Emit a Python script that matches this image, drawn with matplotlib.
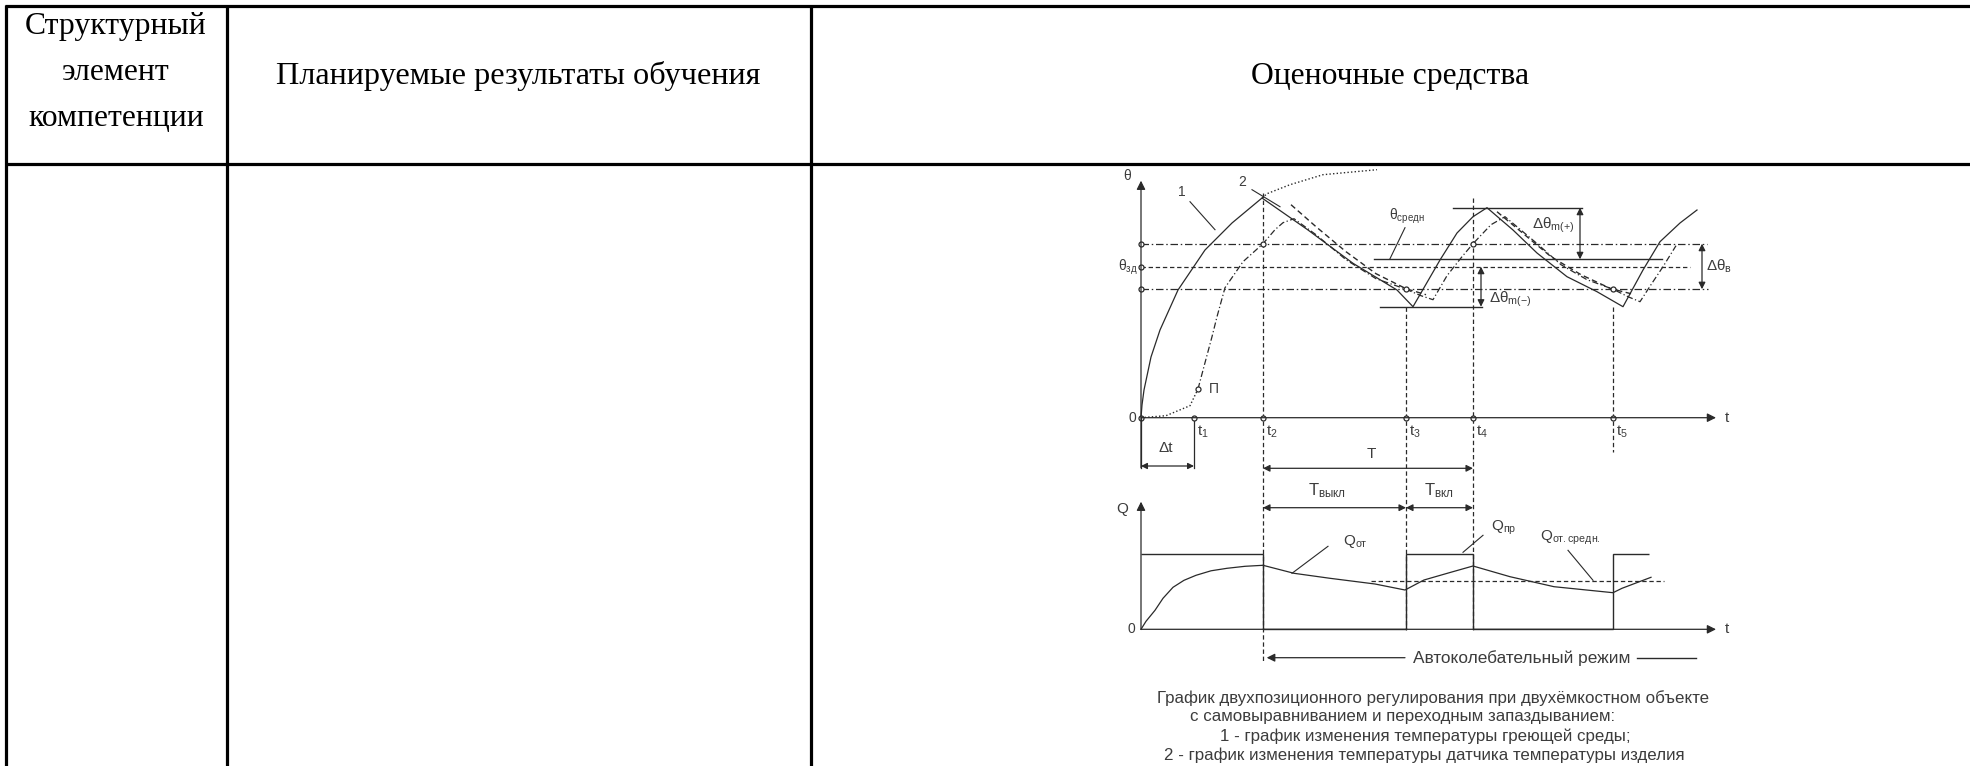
import matplotlib.pyplot as plt

plt.rcParams['font.family'] = ['Liberation Sans', 'DejaVu Sans']
plt.rcParams['mathtext.fontset'] = 'custom'
plt.rcParams['mathtext.rm'] = 'Liberation Sans'
plt.rcParams['mathtext.it'] = 'Liberation Sans:italic'
plt.rcParams['mathtext.bf'] = 'Liberation Sans:bold'

# ---- table header text ----
header_col1 = ['Структурный', 'элемент', 'компетенции']
header_col2 = 'Планируемые результаты обучения'
header_col3 = 'Оценочные средства'

caption = [
    'График двухпозиционного регулирования при двухёмкостном объекте',
    'с самовыравниванием и переходным запаздыванием:',
    '1 - график изменения температуры греющей среды;',
    '2 - график изменения температуры датчика температуры изделия',
]

# ---- diagram data (time units, temperature units, heat flow units) ----
t_marks = [5.3, 12.2, 26.5, 33.2, 47.2]
t_names = ['1', '2', '3', '4', '5']

theta_upper = 17.4
theta_set = 15.1
theta_lower = 12.85
theta_mean = 15.84
theta_max = 21.0
theta_min = 11.1

# curve 1: heating medium temperature
curve1_t = [0, 0.1, 0.3, 1.0, 1.9, 3.7, 6.4, 9.1, 12.1,
            16.7, 21.2, 25.6, 27.2,
            29.9, 31.6, 33.2, 34.6,
            37.2, 39.6, 42.6, 45.6, 48.2,
            50.2, 51.9, 53.9, 55.6]
curve1_theta = [0, 1.27, 2.77, 6.07, 8.77, 12.77, 16.77, 19.47, 21.97,
                18.77, 15.44, 12.77, 11.1,
                15.77, 18.47, 20.1, 21.0,
                18.77, 16.47, 14.1, 12.6, 11.1,
                14.77, 17.6, 19.47, 20.77]

# curve 1 continued if heater stayed on
free_t = [12.1, 12.6, 14.9, 18.2, 23.6]
free_theta = [21.97, 22.4, 23.3, 24.3, 24.8]

# curve 2: sensor temperature
lag_t = [0, 2.5, 4.9, 5.7]
lag_theta = [0, 0.2, 1.2, 2.87]
curve2_t = [5.7, 6.4, 7.1, 7.6, 8.4, 10.2, 12.2, 13.4, 14.2, 15.3,
            17.5, 20.5, 23.5, 26.5, 28.0, 29.2,
            30.6, 32.1, 33.2, 35.0, 36.4,
            39.5, 42.0, 44.6, 47.2, 48.7, 49.9,
            51.0, 52.2, 53.5]
curve2_theta = [2.87, 5.5, 8.1, 10.1, 13.0, 15.6, 17.4, 18.8, 19.5, 19.9,
                18.3, 15.8, 13.9, 12.85, 12.2, 11.8,
                14.2, 16.1, 17.4, 19.3, 20.1,
                17.5, 15.3, 13.8, 12.85, 12.1, 11.6,
                13.3, 15.1, 17.2]

# curve 3: product temperature (descending parts)
curve3a_t = [15.0, 17.5, 20.5, 23.5, 26.5, 28.5]
curve3a_theta = [21.3, 19.1, 16.6, 14.4, 12.9, 12.3]
curve3b_t = [35.6, 38.0, 41.0, 44.0, 47.0, 49.0]
curve3b_theta = [20.6, 18.6, 16.1, 14.3, 12.9, 12.4]

# heat flow from heater (on/off) and heat taken by object
q_edges = [0, 12.2, 26.5, 33.2, 47.2, 50.8]
q_levels = [7.53, 0, 7.53, 0, 7.53]
q_ot_t = [0, 0.5, 1.4, 2.2, 3.2, 4.3, 5.5, 7.0, 8.6, 10.4, 12.2,
          15.3, 18.9, 23.4, 26.4,
          28.3, 30.8, 33.2, 36.9, 41.3, 47.2, 48.1, 51.0]
q_ot = [0, 0.8, 1.9, 3.1, 4.2, 4.9, 5.4, 5.85, 6.1, 6.3, 6.4,
        5.6, 5.1, 4.53, 3.93,
        4.93, 5.65, 6.33, 5.26, 4.26, 3.66, 4.1, 5.2]
q_mean = 4.86

# ---- layout (pixels) ----
W, H = 1970, 766
INK = '#2a2a2a'
TXT = '#3c3c3c'

fig = plt.figure(figsize=(W / 100, H / 100), dpi=100)
bg = fig.add_axes([0, 0, 1, 1])
bg.set_xlim(0, W)
bg.set_ylim(H, 0)
bg.axis('off')

# table grid
for y in (5.5, 163.5):
    bg.plot([4.5, W], [y, y], color='black', lw=2.3, solid_capstyle='butt')
for x in (6, 226.5, 810.5):
    bg.plot([x, x], [4.5, H], color='black', lw=2.3, solid_capstyle='butt')

serif = ['Liberation Serif', 'DejaVu Serif']
for line, y in zip(header_col1, (34, 80, 126)):
    bg.text(116, y, line, ha='center', va='baseline', fontsize=22.8, family=serif)
bg.text(518, 84, header_col2, ha='center', va='baseline', fontsize=23.2, family=serif)
bg.text(1390, 84, header_col3, ha='center', va='baseline', fontsize=22.8, family=serif)

for line, x, y in zip(caption, (1433, 1403, 1425, 1424), (698, 717, 736, 755)):
    bg.text(x, y, line, ha='center', va='center', fontsize=12.2, color=TXT)


def diagram_axes(left, right, top, bottom, x0, y0, scale=10.0):
    ax = fig.add_axes([left / W, 1 - bottom / H, (right - left) / W, (bottom - top) / H])
    ax.set_xlim((left - x0) / scale, (right - x0) / scale)
    ax.set_ylim((y0 - bottom) / scale, (y0 - top) / scale)
    ax.axis('off')
    ax.patch.set_alpha(0)
    return ax


def arrow(ax, x0, y0, x1, y1, style='-|>', ms=11):
    ax.annotate('', xy=(x1, y1), xytext=(x0, y0), annotation_clip=False,
                arrowprops=dict(arrowstyle=style, color=INK, lw=0.9,
                                shrinkA=0, shrinkB=0, mutation_scale=ms))


def label(ax, x, y, s, size=10, **kw):
    ax.text(x, y, s, fontsize=size, color=TXT, clip_on=False, **kw)


level_style = (0, (6, 2.2, 1.2, 2.2))
dash_style = (0, (3.5, 2.2))

th = diagram_axes(1080, 1790, 150, 440, 1141, 417.7)
qa = diagram_axes(1080, 1790, 440, 700, 1141, 629.3)

# --- temperature diagram ---
arrow(th, 0, -5.0, 0, 23.7, ms=13)
arrow(th, 0, 0, 57.5, 0, ms=13)
label(th, -1.4, 24.2, 'θ', 10, ha='center', va='center')
label(th, -0.5, 0, '0', 10, ha='right', va='center')
label(th, 58.4, 0, 't', 11, ha='left', va='center')
label(th, -0.3, 15.0, r'$\mathrm{θ_{зд}}$', 10, ha='right', va='center')

th.plot([0, 56.6], [theta_upper] * 2, color=INK, lw=0.9, linestyle=level_style)
th.plot([0, 54.9], [theta_set] * 2, color=INK, lw=0.9, linestyle=dash_style)
th.plot([0, 56.7], [theta_lower] * 2, color=INK, lw=0.9, linestyle=level_style)
th.plot([23.3, 52.1], [theta_mean] * 2, color=INK, lw=1.0)
th.plot([31.2, 44.1], [theta_max] * 2, color=INK, lw=1.0)
th.plot([23.9, 34.1], [theta_min] * 2, color=INK, lw=1.0)

# vertical marks
th.plot([t_marks[0]] * 2, [0, -5.0], color=INK, lw=0.9, clip_on=False)
for t, top, bot in zip(t_marks[1:], (22.5, 11.1, 22.0, 11.1), (-24.5, -21.2, -21.2, -3.4)):
    th.plot([t, t], [top, bot], color=INK, lw=0.9, linestyle=dash_style, clip_on=False)

th.plot(curve1_t, curve1_theta, color=INK, lw=0.9)
th.plot(free_t, free_theta, color=INK, lw=1.0, linestyle=(0, (1, 1.6)))
th.plot(lag_t, lag_theta, color=INK, lw=1.0, linestyle=(0, (1, 1.6)))
th.plot(curve2_t, curve2_theta, color=INK, lw=0.9, linestyle=(0, (5, 2, 1, 2)))
th.plot(curve3a_t, curve3a_theta, color=INK, lw=1.0, linestyle=(0, (4, 2.5)))
th.plot(curve3b_t, curve3b_theta, color=INK, lw=1.0, linestyle=(0, (4, 2.5)))

circle = dict(marker='o', ms=3.6, mfc='white', mec=INK, mew=0.9, linestyle='none')
th.plot([0, 0, 0, 0], [0, theta_lower, theta_set, theta_upper], **circle)
th.plot(t_marks, [0] * len(t_marks), **circle)
th.plot(t_marks[1:], [theta_upper, theta_lower, theta_upper, theta_lower], **circle)
th.plot([lag_t[-1]], [lag_theta[-1]], **circle)

for t, n in zip(t_marks, t_names):
    label(th, t + 0.3, -1.4, r'$\mathrm{t_{%s}}$' % n, 11, ha='left', va='center')
label(th, 6.8, 2.9, 'П', 10, ha='left', va='center')

label(th, 4.1, 22.6, '1', 10, ha='center', va='center')
th.plot([4.9, 7.4], [21.6, 18.8], color=INK, lw=0.8)
label(th, 10.1, 23.6, '2', 10, ha='center', va='center')
th.plot([11.1, 13.9], [22.8, 21.1], color=INK, lw=0.8)

label(th, 24.8, 20.1, r'$\mathrm{θ_{средн}}$', 10, ha='left', va='center')
th.plot([26.4, 24.9], [19.0, 15.9], color=INK, lw=0.8)

arrow(th, 43.9, theta_mean, 43.9, theta_max, style='<|-|>', ms=10)
arrow(th, 34.0, theta_min, 34.0, theta_set, style='<|-|>', ms=10)
arrow(th, 56.1, theta_lower, 56.1, theta_upper, style='<|-|>', ms=10)
label(th, 39.1, 19.2, r'$\mathrm{Δθ_{m(+)}}$', 11, ha='left', va='center')
label(th, 34.8, 11.8, r'$\mathrm{Δθ_{m(-)}}$', 11, ha='left', va='center')
label(th, 56.5, 15.1, r'$\mathrm{Δθ_{в}}$', 11, ha='left', va='center')

# --- heat flow diagram ---
arrow(qa, 0, 0, 0, 12.76, ms=13)
arrow(qa, 0, 0, 57.5, 0, ms=13)
label(qa, -1.9, 12.0, 'Q', 11, ha='center', va='center')
label(qa, -0.6, 0, '0', 10, ha='right', va='center')
label(qa, 58.4, 0, 't', 11, ha='left', va='center')

qa.stairs(q_levels, q_edges, baseline=None, color=INK, lw=1.0)
qa.plot(q_ot_t, q_ot, color=INK, lw=0.9)
qa.plot([22.96, 52.3], [q_mean] * 2, color=INK, lw=0.9, linestyle=dash_style)

label(qa, 20.2, 8.8, r'$\mathrm{Q_{от}}$', 11, ha='left', va='center')
qa.plot([18.7, 15.1], [8.3, 5.6], color=INK, lw=0.8)
label(qa, 35.0, 10.1, r'$\mathrm{Q_{пр}}$', 11, ha='left', va='center')
qa.plot([34.2, 32.2], [9.4, 7.7], color=INK, lw=0.8)
label(qa, 39.9, 9.1, r'$\mathrm{Q_{от.средн.}}$', 11, ha='left', va='center')
qa.plot([42.7, 45.2], [7.9, 4.9], color=INK, lw=0.8)

# interval arrows
qa.plot([0, 0], [16.1, 21.2], color=INK, lw=0.9, clip_on=False)
arrow(qa, 0, 16.33, t_marks[0], 16.33, style='<|-|>', ms=9)
label(qa, 2.5, 18.1, 'Δt', 11, ha='center', va='center')
arrow(qa, t_marks[1], 16.1, t_marks[3], 16.1, style='<|-|>', ms=10)
label(qa, 23.0, 17.5, 'T', 11, ha='center', va='center')
arrow(qa, t_marks[1], 12.16, t_marks[2], 12.16, style='<|-|>', ms=10)
arrow(qa, t_marks[2], 12.16, t_marks[3], 12.16, style='<|-|>', ms=10)
label(qa, 18.6, 13.9, r'$\mathrm{T_{выкл}}$', 12, ha='center', va='center')
label(qa, 29.8, 13.9, r'$\mathrm{T_{вкл}}$', 12, ha='center', va='center')

arrow(qa, 26.4, -2.84, 12.57, -2.84, ms=12)
label(qa, 27.2, -2.84, 'Автоколебательный режим', 12.4, ha='left', va='center')
qa.plot([49.6, 55.5], [-2.84, -2.84], color=INK, lw=1.0, clip_on=False)

fig.savefig('out.png', dpi=100)
